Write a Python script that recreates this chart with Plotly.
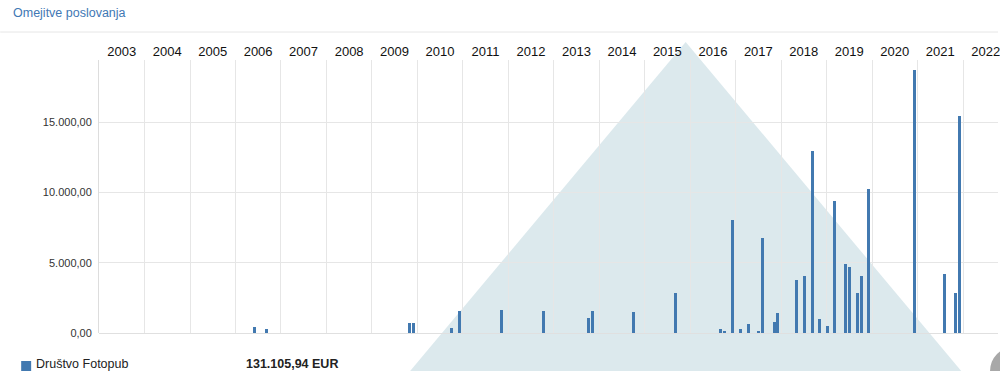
import plotly.graph_objects as go

# ---- data ----
dates = [
    "2006-06-01", "2006-09-08",
    "2009-11-01", "2009-12-03",
    "2010-10-04", "2010-12-04",
    "2011-11-08",
    "2012-10-07",
    "2013-10-05", "2013-11-09",
    "2014-10-05",
    "2015-09-07",
    "2016-09-04", "2016-10-04", "2016-12-05",
    "2017-02-07", "2017-04-10", "2017-07-05", "2017-08-07", "2017-11-06", "2017-12-05",
    "2018-05-05", "2018-07-07", "2018-09-07", "2018-11-06",
    "2019-01-07", "2019-03-06", "2019-06-05", "2019-07-07", "2019-09-06", "2019-10-06", "2019-12-07",
    "2020-12-04",
    "2021-08-07", "2021-11-03", "2021-12-05",
]
values = [
    450, 260,
    690, 690,
    380, 1560,
    1640,
    1560,
    1040, 1560,
    1490,
    2870,
    300, 120, 8040,
    300, 620, 160, 6730, 760, 1400,
    3770, 4050, 12970, 1020,
    500, 9370, 4910, 4670, 2820, 4050, 10270,
    18700,
    4170, 2820, 15460,
]
years = list(range(2003, 2023))
year_labels = [str(y) for y in years]
series_name = "Društvo Fotopub"
total_label = "131.105,94 EUR"
title_text = "Omejitve poslovanja"
y_tickvals = [0, 5000, 10000, 15000]
y_ticktext = ["0,00", "5.000,00", "10.000,00", "15.000,00"]

# ---- layout geometry ----
W, H = 1000, 371
ML, MR, MT, MB = 99, 0, 60, 38
PW = W - ML - MR
PH = H - MT - MB


def px(x):
    return (x - ML) / PW


def py(y):
    return (H - MB - y) / PH


BAR = "#4279b0"
FONT = "Liberation Sans, Arial, sans-serif"

fig = go.Figure()
fig.add_trace(go.Bar(
    x=dates, y=values, name=series_name,
    marker=dict(color=BAR, line=dict(width=0)),
    width=24 * 86400000,
    hoverinfo="skip",
))

shapes = [
    # decorative background triangle
    dict(type="path", xref="paper", yref="paper", layer="below",
         path=f"M {px(687)} {py(42)} L {px(410)} {py(372)} L {px(964)} {py(372)} Z",
         fillcolor="#dce9ed", line=dict(width=0)),
    # header separator
    dict(type="line", xref="paper", yref="paper",
         x0=px(0), x1=px(1000), y0=py(32), y1=py(32),
         line=dict(color="#e6e6e6", width=1)),
    # legend marker
    dict(type="rect", xref="paper", yref="paper",
         x0=px(21), x1=px(31), y0=py(361), y1=py(371),
         fillcolor=BAR, line=dict(width=0)),
    # partial grey circle at bottom-right
    dict(type="circle", xref="paper", yref="paper",
         x0=px(992), x1=px(1040), y0=py(347), y1=py(395),
         fillcolor="#a8a8a8", line=dict(width=0)),
]

annotations = [
    dict(text=title_text, xref="paper", yref="paper", x=px(11), y=py(13),
         xanchor="left", yanchor="middle", showarrow=False,
         font=dict(family=FONT, size=12.5, color="#3f78b4")),
    dict(text=series_name, xref="paper", yref="paper", x=px(34), y=py(364),
         xanchor="left", yanchor="middle", showarrow=False,
         font=dict(family=FONT, size=12.5, color="#222")),
    dict(text="<b>" + total_label + "</b>", xref="paper", yref="paper", x=px(244), y=py(364),
         xanchor="left", yanchor="middle", showarrow=False,
         font=dict(family=FONT, size=12.5, color="#222")),
]

fig.update_layout(
    width=W, height=H,
    margin=dict(l=ML, r=MR, t=MT, b=MB, pad=0),
    paper_bgcolor="white", plot_bgcolor="rgba(0,0,0,0)",
    showlegend=False,
    bargap=0,
    shapes=shapes,
    annotations=annotations,
    font=dict(family=FONT),
    xaxis=dict(
        type="date", side="top",
        range=["2003-01-01", "2022-10-09"],
        tickmode="array",
        tickvals=[f"{y}-07-02" for y in years],
        ticktext=year_labels,
        ticklabeloverflow="allow",
        showgrid=False,
        minor=dict(tickmode="linear", tick0="2003-01-01", dtick="M12",
                   showgrid=True, gridcolor="#e6e6e6", gridwidth=1, ticks=""),
        ticks="", showline=False, zeroline=False,
        tickfont=dict(family=FONT, size=13, color="#111111"),
        fixedrange=True,
    ),
    yaxis=dict(
        range=[0, 19420],
        tickmode="array", tickvals=y_tickvals, ticktext=y_ticktext,
        showgrid=True, gridcolor="#e6e6e6", gridwidth=1,
        showline=True, linecolor="#dddddd", linewidth=1,
        zeroline=True, zerolinecolor="#e0e0e0", zerolinewidth=1,
        ticks="", ticklabelstandoff=4,
        tickfont=dict(family=FONT, size=11, color="#333333"),
        fixedrange=True,
    ),
)

fig.write_html("out.html", config={"displayModeBar": False})
